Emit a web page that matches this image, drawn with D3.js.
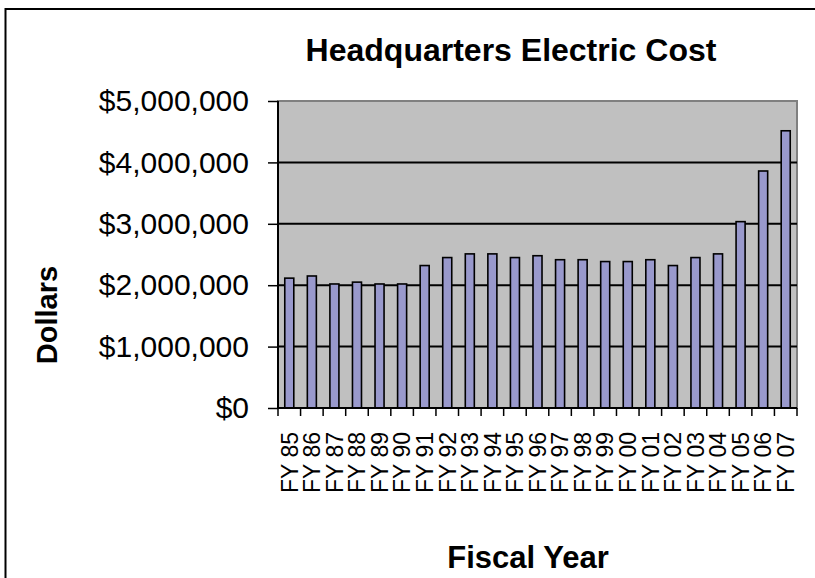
<!DOCTYPE html>
<html>
<head>
<meta charset="utf-8">
<script src="https://cdn.jsdelivr.net/npm/d3@7"></script>
<style>
  body { margin: 0; background: #ffffff; }
  svg { display: block; font-family: 'Liberation Sans', Arial, sans-serif; }
</style>
</head>
<body>
<div id="chart"></div>
<script>
const fiscalYears = ['FY 85', 'FY 86', 'FY 87', 'FY 88', 'FY 89', 'FY 90', 'FY 91', 'FY 92',
  'FY 93', 'FY 94', 'FY 95', 'FY 96', 'FY 97', 'FY 98', 'FY 99', 'FY 00', 'FY 01', 'FY 02',
  'FY 03', 'FY 04', 'FY 05', 'FY 06', 'FY 07'];
const electricCost = [2115000, 2150000, 2020000, 2050000, 2020000, 2020000, 2320000, 2450000,
  2510000, 2510000, 2450000, 2480000, 2415000, 2415000, 2385000, 2385000, 2415000, 2320000,
  2450000, 2510000, 3035000, 3860000, 4515000];
const yTicks = [0, 1000000, 2000000, 3000000, 4000000, 5000000];

const data = fiscalYears.map((fy, i) => ({ fy, cost: electricCost[i] }));

const totalWidth = 815;
const totalHeight = 578;
const margin = { top: 101, right: 18, bottom: 170, left: 278 };
const width = totalWidth - margin.left - margin.right;
const height = totalHeight - margin.top - margin.bottom;

const svgRoot = d3
  .select('#chart')
  .append('svg')
  .attr('width', totalWidth)
  .attr('height', totalHeight);

// chart outer border (runs off the right and bottom edge)
svgRoot
  .append('rect')
  .attr('x', 5.5)
  .attr('y', 9)
  .attr('width', 840)
  .attr('height', 620)
  .attr('fill', 'none')
  .attr('stroke', '#000000')
  .attr('stroke-width', 2);

const svg = svgRoot
  .append('g')
  .attr('transform', `translate(${margin.left}, ${margin.top})`);

const xScale = d3
  .scaleBand()
  .domain(fiscalYears)
  .range([0, width])
  .paddingInner(0.6)
  .paddingOuter(0.3);

const yScale = d3.scaleLinear().domain([0, 5000000]).range([height, 0]);

// plot area
svg
  .append('rect')
  .attr('width', width)
  .attr('height', height)
  .attr('fill', '#c0c0c0')
  .attr('stroke', '#808080')
  .attr('stroke-width', 2);

// gridlines
svg
  .selectAll('.grid')
  .data(yTicks.slice(1, -1))
  .join('line')
  .attr('x1', 0)
  .attr('x2', width)
  .attr('y1', (d) => yScale(d))
  .attr('y2', (d) => yScale(d))
  .attr('stroke', '#000000')
  .attr('stroke-width', 2);

// bars
svg
  .selectAll('.bar')
  .data(data)
  .join('rect')
  .attr('x', (d) => xScale(d.fy))
  .attr('y', (d) => yScale(d.cost))
  .attr('width', xScale.bandwidth())
  .attr('height', (d) => height - yScale(d.cost))
  .attr('fill', '#9999cc')
  .attr('stroke', '#000000')
  .attr('stroke-width', 1.6);

// y axis
svg
  .append('g')
  .call(
    d3.axisLeft(yScale)
      .tickValues(yTicks)
      .tickSize(10)
      .tickPadding(19)
      .tickFormat(d3.format('$,'))
  )
  .call((g) => g.select('.domain').attr('stroke-width', 2).attr('d', `M0,${height}V0`))
  .call((g) => g.selectAll('.tick line').attr('stroke-width', 1.5))
  .call((g) =>
    g.selectAll('text')
      .attr('font-size', 30)
      .attr('font-family', "'Liberation Sans', Arial, sans-serif")
      .attr('fill', '#000000')
  );

// x axis
const xAxis = svg.append('g').attr('transform', `translate(0, ${height})`);

xAxis
  .append('line')
  .attr('x1', 0)
  .attr('x2', width)
  .attr('stroke', '#000000')
  .attr('stroke-width', 2);

const step = xScale.step();
const boundaries = fiscalYears.map((fy) => xScale(fy) - step * xScale.paddingOuter());
boundaries.push(width);

xAxis
  .selectAll('.xtick')
  .data(boundaries)
  .join('line')
  .attr('x1', (d) => d)
  .attr('x2', (d) => d)
  .attr('y1', 0)
  .attr('y2', 8)
  .attr('stroke', '#000000')
  .attr('stroke-width', 1.5);

xAxis
  .selectAll('.xlabel')
  .data(fiscalYears)
  .join('text')
  .attr('transform', (d) => `translate(${xScale(d) + xScale.bandwidth() / 2}, 24) rotate(-90)`)
  .attr('text-anchor', 'end')
  .attr('dy', '0.36em')
  .attr('font-size', 23)
  .text((d) => d);

// title
svgRoot
  .append('text')
  .attr('x', 511)
  .attr('y', 61)
  .attr('text-anchor', 'middle')
  .attr('font-size', 32)
  .attr('font-weight', 'bold')
  .text('Headquarters Electric Cost');

// axis titles
svgRoot
  .append('text')
  .attr('x', 528)
  .attr('y', 568)
  .attr('text-anchor', 'middle')
  .attr('font-size', 31)
  .attr('font-weight', 'bold')
  .text('Fiscal Year');

svgRoot
  .append('text')
  .attr('transform', 'translate(57, 315) rotate(-90)')
  .attr('text-anchor', 'middle')
  .attr('font-size', 29)
  .attr('font-weight', 'bold')
  .text('Dollars');
</script>
</body>
</html>
